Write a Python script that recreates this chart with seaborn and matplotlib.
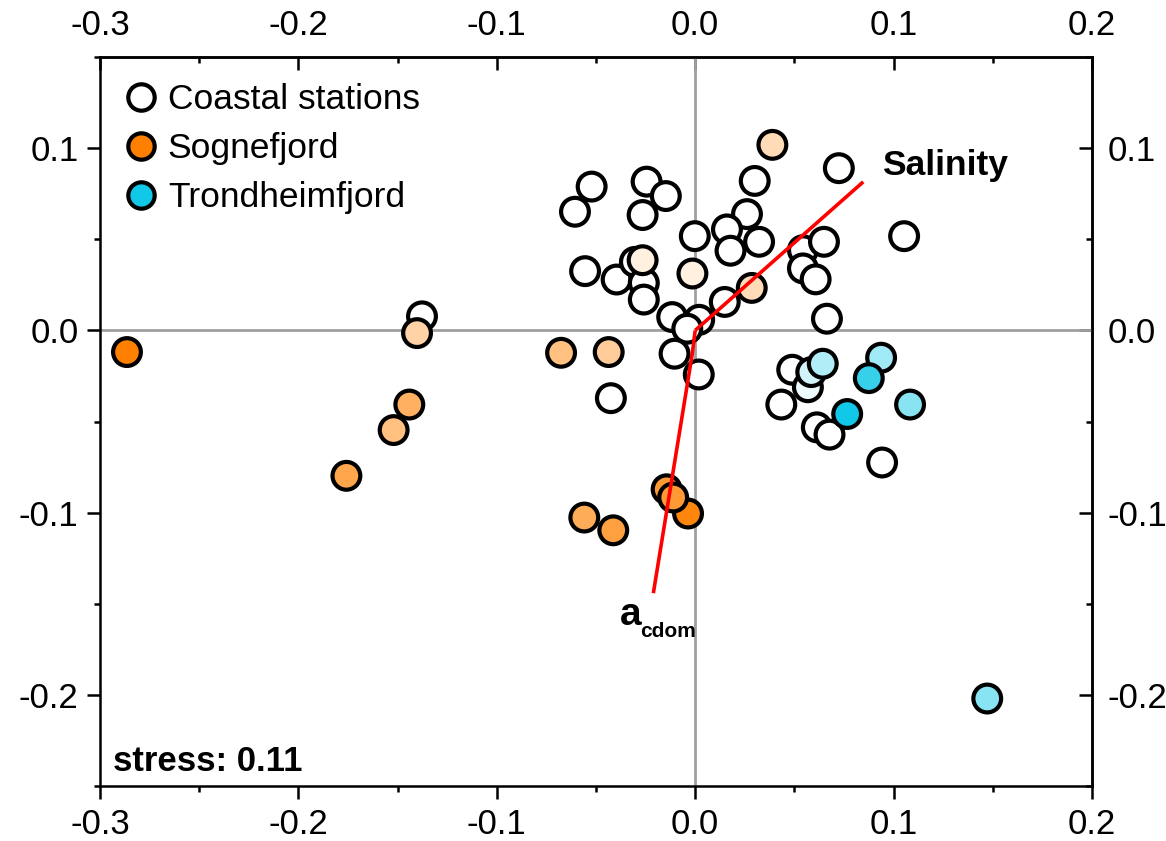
import numpy as np
import pandas as pd
import matplotlib
matplotlib.use("Agg")
import matplotlib.pyplot as plt
from matplotlib.lines import Line2D
from matplotlib.ticker import MultipleLocator, FormatStrFormatter
from matplotlib.colors import to_rgb, to_hex
import seaborn as sns

# ---- NMDS ordination scores ----
coastal_x = [-0.0522, -0.0606, -0.0245, -0.0148, -0.0265, -0.0002, 0.0300, 0.0724,
             0.0261, 0.0160, 0.0178, 0.0322, 0.0543, 0.0649, 0.0543, 0.0607,
             0.0664, -0.0555, -0.0396, -0.0304, -0.0259, -0.0259, -0.0116, 0.0020,
             -0.0040, 0.0149, -0.0104, 0.0018, -0.0425, 0.1053, -0.1377, 0.0489,
             0.0434, 0.0613, 0.0677, 0.0942]
coastal_y = [0.0789, 0.0651, 0.0816, 0.0737, 0.0633, 0.0517, 0.0820, 0.0890,
             0.0638, 0.0554, 0.0437, 0.0486, 0.0440, 0.0486, 0.0340, 0.0280,
             0.0064, 0.0325, 0.0279, 0.0376, 0.0260, 0.0169, 0.0073, 0.0058,
             0.0009, 0.0156, -0.0128, -0.0242, -0.0372, 0.0517, 0.0077, -0.0216,
             -0.0407, -0.0532, -0.0572, -0.0725]

sogne_x = [-0.0265, -0.0014, 0.0389, 0.0285, -0.1402, -0.0436, -0.0676, -0.1520,
           -0.1441, -0.0559, -0.1758, -0.0413, -0.0144, -0.0036, -0.0111, -0.2864]
sogne_y = [0.0385, 0.0312, 0.1018, 0.0233, -0.0015, -0.0119, -0.0123, -0.0547,
           -0.0407, -0.1027, -0.0798, -0.1097, -0.0872, -0.1005, -0.0917, -0.0119]
# colour intensity of each fjord station (0 = white, 1 = full group colour)
sogne_shade = [0.12, 0.12, 0.28, 0.28, 0.35, 0.40, 0.50, 0.50,
               0.62, 0.65, 0.70, 0.75, 0.80, 0.95, 0.80, 1.00]

trond_x = [0.0568, 0.0585, 0.0643, 0.0937, 0.0875, 0.1083, 0.0766, 0.1472]
trond_y = [-0.0312, -0.0229, -0.0183, -0.0150, -0.0262, -0.0407, -0.0459, -0.2020]
trond_shade = [0.08, 0.20, 0.33, 0.40, 0.85, 0.50, 1.00, 0.50]

groups = ["Coastal stations", "Sognefjord", "Trondheimfjord"]
group_colors = {"Coastal stations": "#FFFFFF", "Sognefjord": "#FF8000",
                "Trondheimfjord": "#12C8E8"}

# environmental vectors (polyline from origin)
salinity_x = [0.0, 0.0847]
salinity_y = [0.0, 0.0815]
acdom_x = [0.0, -0.0015, -0.0211]
acdom_y = [0.0, -0.0130, -0.1442]

stress_value = 0.11
x_ticks = [-0.3, -0.2, -0.1, 0.0, 0.1, 0.2]
y_ticks = [-0.2, -0.1, 0.0, 0.1]


def blend(base, s):
    b = np.array(to_rgb(base))
    return to_hex((1 - s) * np.ones(3) + s * b)


rows = []
for x, y in zip(coastal_x, coastal_y):
    rows.append((x, y, "Coastal stations", "#FFFFFF"))
for x, y, s in zip(sogne_x, sogne_y, sogne_shade):
    rows.append((x, y, "Sognefjord", blend(group_colors["Sognefjord"], s)))
for x, y, s in zip(trond_x, trond_y, trond_shade):
    rows.append((x, y, "Trondheimfjord", blend(group_colors["Trondheimfjord"], s)))
df = pd.DataFrame(rows, columns=["x", "y", "group", "fill"])
df["pid"] = [f"p{i}" for i in range(len(df))]
palette = dict(zip(df["pid"], df["fill"]))

sns.set_style("ticks")
plt.rcParams["font.family"] = ["Liberation Sans", "DejaVu Sans"]
plt.rcParams["axes.unicode_minus"] = False
plt.rcParams["text.color"] = "black"
plt.rcParams["xtick.color"] = "black"
plt.rcParams["ytick.color"] = "black"
plt.rcParams["xtick.labelcolor"] = "black"
plt.rcParams["ytick.labelcolor"] = "black"
plt.rcParams["axes.edgecolor"] = "black"

TICK_FS = 25

fig = plt.figure(figsize=(11.66, 8.41), dpi=100)
ax = fig.add_axes([100 / 1166, 1 - 786 / 841, 992 / 1166, 729 / 841])

ax.axhline(0, color="#A0A0A0", lw=2.0, zorder=1)
ax.axvline(0, color="#A0A0A0", lw=2.0, zorder=1)

sns.scatterplot(data=df, x="x", y="y", hue="pid", palette=palette, s=400,
                edgecolor="black", linewidth=3.0, legend=False, ax=ax, zorder=3)

ax.plot(salinity_x, salinity_y, color="#FF0000", lw=2.6, zorder=5,
        solid_capstyle="butt")
ax.plot(acdom_x, acdom_y, color="#FF0000", lw=2.6, zorder=5,
        solid_capstyle="butt")

ax.text(0.094, 0.0852, "Salinity", fontsize=25.5, fontweight="bold",
        ha="left", va="baseline", zorder=6)
ax.text(-0.0378, -0.1614, "a", fontsize=28, fontweight="bold",
        ha="left", va="baseline", zorder=6)
ax.text(-0.0278, -0.1680, "cdom", fontsize=15, fontweight="bold",
        ha="left", va="baseline", zorder=6)
ax.text(0.0134, 0.021, f"stress: {stress_value:.2f}", transform=ax.transAxes,
        fontsize=25, fontweight="bold", ha="left", va="baseline")

ax.set_xlim(-0.3, 0.2)
ax.set_ylim(-0.25, 0.15)
ax.set_xlabel("")
ax.set_ylabel("")
ax.set_xticks(x_ticks)
ax.set_yticks(y_ticks)
ax.xaxis.set_minor_locator(MultipleLocator(0.05))
ax.yaxis.set_minor_locator(MultipleLocator(0.05))
ax.xaxis.set_major_formatter(FormatStrFormatter("%.1f"))
ax.yaxis.set_major_formatter(FormatStrFormatter("%.1f"))
ax.tick_params(which="major", direction="out", length=9.5, width=1.8,
               labelsize=TICK_FS, pad=6, top=False, right=False, color="black")
ax.tick_params(which="minor", direction="out", length=4.5, width=1.8,
               top=False, right=False)
for sp in ax.spines.values():
    sp.set_linewidth(1.8)
    sp.set_color("black")
    sp.set_visible(True)

# mirrored axes on top and right with inward ticks
secx = ax.secondary_xaxis("top")
secx.set_xticks(x_ticks)
secx.xaxis.set_minor_locator(MultipleLocator(0.05))
secx.xaxis.set_major_formatter(FormatStrFormatter("%.1f"))
secx.tick_params(which="major", direction="in", length=9.5, width=1.8,
                 labelsize=TICK_FS, pad=11)
secx.tick_params(which="minor", direction="in", length=4.5, width=1.8)
secx.spines["top"].set_linewidth(1.8)

secy = ax.secondary_yaxis("right")
secy.set_yticks(y_ticks)
secy.yaxis.set_minor_locator(MultipleLocator(0.05))
secy.yaxis.set_major_formatter(FormatStrFormatter("%.1f"))
secy.tick_params(which="major", direction="in", length=9.5, width=1.8,
                 labelsize=TICK_FS, pad=11)
secy.tick_params(which="minor", direction="in", length=4.5, width=1.8)
secy.spines["right"].set_linewidth(1.8)

handles = [Line2D([], [], ls="none", marker="o", markersize=19,
                  markerfacecolor=group_colors[g], markeredgecolor="black",
                  markeredgewidth=3.0) for g in groups]
ax.legend(handles, groups, loc="upper left", bbox_to_anchor=(-0.012, 1.008),
          frameon=False, fontsize=25.5, handletextpad=0.15, labelspacing=0.45,
          borderaxespad=0.5, handlelength=1.2)

fig.savefig("out.png", dpi=100)
